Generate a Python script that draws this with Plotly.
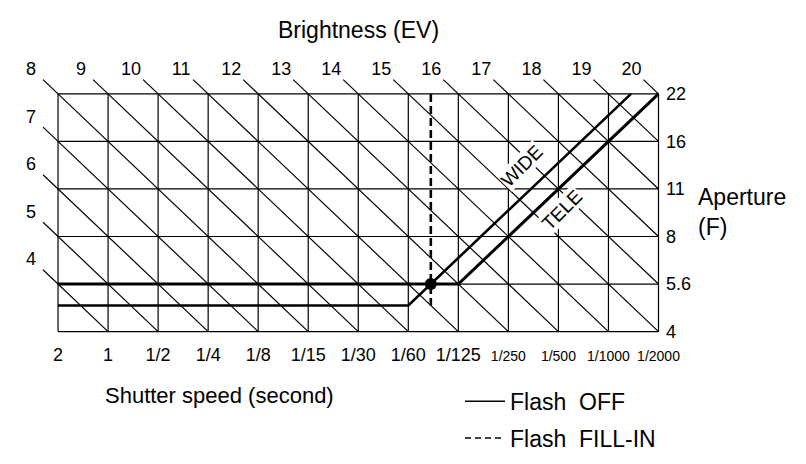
import plotly.graph_objects as go

# ---------------- data ----------------
shutter_labels = ["2", "1", "1/2", "1/4", "1/8", "1/15", "1/30", "1/60",
                  "1/125", "1/250", "1/500", "1/1000", "1/2000"]
aperture_labels = ["4", "5.6", "8", "11", "16", "22"]
ev_values = list(range(4, 21))          # brightness (EV) lines drawn
ev_at_origin = 3                        # EV at (2 s, F4)

# program lines in (shutter index, aperture-stop index)
tele_x = [0, 8, 12]
tele_y = [1, 1, 5]
wide_x = [0, 7, 11.45]
wide_y = [0.55, 0.55, 5]
fill_x = [7.45, 7.45]
fill_y = [5, 0.55]
dot_x = [7.45]
dot_y = [1]

n_cols = len(shutter_labels) - 1
n_rows = len(aperture_labels) - 1

# ---------------- grid ----------------
gx, gy = [], []
for i in range(n_cols + 1):
    gx += [i, i, None]
    gy += [0, n_rows, None]
for j in range(n_rows + 1):
    gx += [0, n_cols, None]
    gy += [j, j, None]

# ---------------- EV diagonals ----------------
dx, dy = [], []
lx, ly, lt = [], [], []
for e in ev_values:
    s = e - ev_at_origin
    if s >= n_rows:
        x0, y0 = s - n_rows, n_rows
    else:
        x0, y0 = 0, s
    if s <= n_cols:
        x1, y1 = s, 0
    else:
        x1, y1 = n_cols, s - n_cols
    dx += [x0 - 0.3, x1, None]
    dy += [y0 + 0.3, y1, None]
    lx.append(x0 - 0.54)
    ly.append(y0 + 0.49)
    lt.append(str(e))

fig = go.Figure()
fig.add_trace(go.Scatter(x=gx, y=gy, mode="lines", showlegend=False, hoverinfo="skip",
                         line=dict(color="black", width=1.2)))
fig.add_trace(go.Scatter(x=dx, y=dy, mode="lines", showlegend=False, hoverinfo="skip",
                         line=dict(color="black", width=1.2)))
fig.add_trace(go.Scatter(x=lx, y=ly, mode="text", text=lt, showlegend=False,
                         textposition="middle center", cliponaxis=False, hoverinfo="skip",
                         textfont=dict(size=18, color="black")))
fig.add_trace(go.Scatter(x=tele_x, y=tele_y, mode="lines", showlegend=False,
                         line=dict(color="black", width=3)))
fig.add_trace(go.Scatter(x=wide_x, y=wide_y, mode="lines", showlegend=False,
                         line=dict(color="black", width=2.6)))
fig.add_trace(go.Scatter(x=fill_x, y=fill_y, mode="lines", showlegend=False,
                         line=dict(color="black", width=2.6, dash="8px,4px")))
fig.add_trace(go.Scatter(x=dot_x, y=dot_y, mode="markers", showlegend=False,
                         marker=dict(color="black", size=12), cliponaxis=False))
# legend entries
fig.add_trace(go.Scatter(x=[None], y=[None], mode="lines", name="Flash  OFF",
                         legendgroup="a", line=dict(color="black", width=1.5)))
fig.add_trace(go.Scatter(x=[None], y=[None], mode="lines", name="Flash  FILL-IN",
                         legendgroup="b", line=dict(color="black", width=1.5, dash="6px,4px")))

font_family = "Liberation Sans, Arial, sans-serif"

# plot area spans px 15..652 horizontally, 55..344 vertically
L, R, T, B = 15, 652, 55, 344

def pp_x(p):
    return (p - L) / float(R - L)

def pp_y(p):
    return (B - p) / float(B - T)

annotations = [
    dict(x=pp_x(350), y=pp_y(20), xref="paper", yref="paper", text="Brightness (EV)",
         showarrow=False, font=dict(size=23, color="black"), xanchor="center", yanchor="middle"),
    dict(x=pp_x(688), y=pp_y(198), xref="paper", yref="paper", text="Aperture",
         showarrow=False, font=dict(size=23, color="black"), xanchor="left", yanchor="middle"),
    dict(x=pp_x(688), y=pp_y(231), xref="paper", yref="paper", text="(F)",
         showarrow=False, font=dict(size=23, color="black"), xanchor="left", yanchor="middle"),
    dict(x=pp_x(211), y=pp_y(411), xref="paper", yref="paper", text="Shutter speed (second)",
         showarrow=False, font=dict(size=22, color="black"), xanchor="center", yanchor="middle"),
    dict(x=9.28, y=3.49, xref="x", yref="y", text="WIDE", textangle=-45,
         showarrow=False, font=dict(size=19, color="black"), bgcolor="white",
         xanchor="center", yanchor="middle", borderpad=0),
    dict(x=10.08, y=2.57, xref="x", yref="y", text="TELE", textangle=-45,
         showarrow=False, font=dict(size=19, color="black"), bgcolor="white",
         xanchor="center", yanchor="middle", borderpad=0),
]

ticktext = []
for i, lab in enumerate(shutter_labels):
    if i >= 9:
        ticktext.append('<span style="font-size:14px">' + lab + '</span>')
    else:
        ticktext.append(lab)

fig.update_layout(
    width=806, height=464, autosize=False,
    margin=dict(l=L, r=806 - R, t=T, b=464 - B),
    paper_bgcolor="white", plot_bgcolor="white",
    font=dict(family=font_family, color="black"),
    annotations=annotations,
    showlegend=True,
    legend=dict(x=pp_x(452), y=pp_y(394), xanchor="left", yanchor="top",
                font=dict(size=23, color="black"), bgcolor="rgba(0,0,0,0)",
                traceorder="grouped", tracegroupgap=4, itemwidth=40),
    xaxis=dict(range=[-0.7, n_cols + 0.03], tickvals=list(range(n_cols + 1)), ticktext=ticktext,
               showgrid=False, zeroline=False, showline=False,
               ticks="", ticklabelstandoff=9, tickfont=dict(size=18, color="black"),
               fixedrange=True),
    yaxis=dict(range=[-0.03, n_rows + 0.65], tickvals=list(range(n_rows + 1)), ticktext=aperture_labels,
               side="right", showgrid=False, zeroline=False, showline=False,
               ticks="", ticklabelstandoff=5, tickfont=dict(size=18, color="black"),
               fixedrange=True),
)

fig.write_html("out.html")
